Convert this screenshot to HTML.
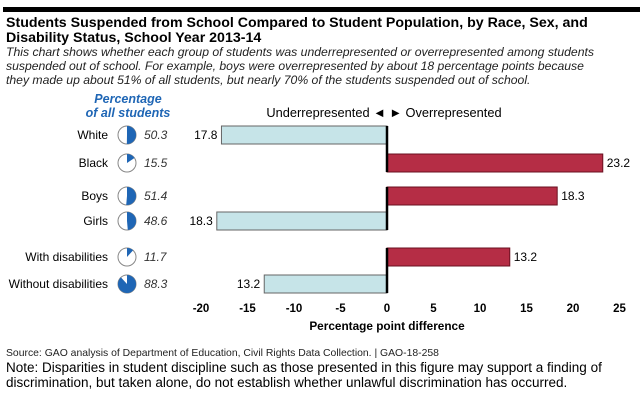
<!DOCTYPE html>
<html><head><meta charset="utf-8"><style>
body{margin:0;background:#fff;}
svg{display:block;font-family:"Liberation Sans",Arial,sans-serif;}
</style></head><body>
<svg width="640" height="401" viewBox="0 0 640 401">
<rect x="3" y="7" width="637" height="5" fill="#000"/>
<g font-size="14.2" font-weight="bold" fill="#000">
<text x="6" y="27">Students Suspended from School Compared to Student Population, by Race, Sex, and</text>
<text x="6" y="42">Disability Status, School Year 2013-14</text>
</g>
<g font-size="12.2" font-style="italic" fill="#222">
<text x="6" y="56" textLength="588" lengthAdjust="spacingAndGlyphs">This chart shows whether each group of students was underrepresented or overrepresented among students</text>
<text x="6" y="70">suspended out of school. For example, boys were overrepresented by about 18 percentage points because</text>
<text x="6" y="84">they made up about 51% of all students, but nearly 70% of the students suspended out of school.</text>
</g>
<g font-size="12.5" font-weight="bold" font-style="italic" fill="#1f66b5" text-anchor="middle">
<text x="128" y="103">Percentage</text>
<text x="128" y="117">of all students</text>
</g>
<text x="384" y="117" font-size="12.8" text-anchor="middle">Underrepresented ◄ ► Overrepresented</text>
<g id="plot"></g>
<g id="ticks" font-size="11.5" font-weight="bold" text-anchor="middle"></g>
<text x="387" y="330" font-size="11.8" font-weight="bold" text-anchor="middle">Percentage point difference</text>
<text x="6" y="356" font-size="10.4" fill="#222">Source: GAO analysis of Department of Education, Civil Rights Data Collection.  |  GAO-18-258</text>
<g font-size="13.5" fill="#000">
<text x="6" y="372">Note: Disparities in student discipline such as those presented in this figure may support a finding of</text>
<text x="6" y="387">discrimination, but taken alone, do not establish whether unlawful discrimination has occurred.</text>
</g>
</svg>
<script>
const categories=["White","Black","Boys","Girls","With disabilities","Without disabilities"];
const shares=[50.3,15.5,51.4,48.6,11.7,88.3];
const differences=[-17.8,23.2,18.3,-18.3,13.2,-13.2];
const tickValues=[-20,-15,-10,-5,0,5,10,15,20,25];
const rowTops=[126,154,187,212,248,275];
const NS="http://www.w3.org/2000/svg";
const x0=387,scale=9.3;
function xs(v){return x0+v*scale;}
const plot=document.getElementById('plot');
function mk(tag,attrs,parent){const e=document.createElementNS(NS,tag);for(const k in attrs)e.setAttribute(k,attrs[k]);parent.appendChild(e);return e;}
categories.forEach((c,i)=>{
  const y=rowTops[i],h=18,cy=y+h/2;
  const lab=mk('text',{x:108,y:cy+4,'font-size':12,'text-anchor':'end'},plot);
  lab.textContent=c;
  
  
  const cx=127,r=9;
  const pc=mk('circle',{cx:cx,cy:cy,r:r,fill:'#fff',stroke:'#888','stroke-width':1},plot);
  
  
  const f=shares[i]/100,a=f*2*Math.PI;
  const ex=cx+r*Math.sin(a),ey=cy-r*Math.cos(a);
  const p=mk('path',{d:`M${cx},${cy} L${cx},${cy-r} A${r},${r} 0 ${f>0.5?1:0} 1 ${ex},${ey} Z`,fill:'#1f66b5'},plot);
  
  
  const sv=mk('text',{x:144,y:cy+4,'font-size':12,'font-style':'italic',fill:'#333'},plot);
  sv.textContent=shares[i].toFixed(1);
  
  
  const v=differences[i];
  const bx=Math.min(xs(0),xs(v)),bw=Math.abs(xs(v)-xs(0));
  const b=mk('rect',{x:bx,y:y,width:bw,height:h,fill:v<0?'#c6e4e8':'#b52d45',stroke:v<0?'#666':'#6a1020','stroke-width':1},plot);
  
  
  const t=mk('text',{x:v<0?bx-4:bx+bw+4,y:cy+4,'font-size':12,'text-anchor':v<0?'end':'start'},plot);
  t.textContent=Math.abs(v).toFixed(1);
  
  
});
[[0,1],[2,3],[4,5]].forEach(g=>{
  const l=mk('line',{x1:x0,x2:x0,y1:rowTops[g[0]],y2:rowTops[g[1]]+18,stroke:'#000','stroke-width':2.5},plot);
  
  
});
const tg=document.getElementById('ticks');
tickValues.forEach(v=>{
  const t=mk('text',{x:xs(v),y:312},tg);
  t.textContent=v;
  
  
});
</script>
</body></html>
